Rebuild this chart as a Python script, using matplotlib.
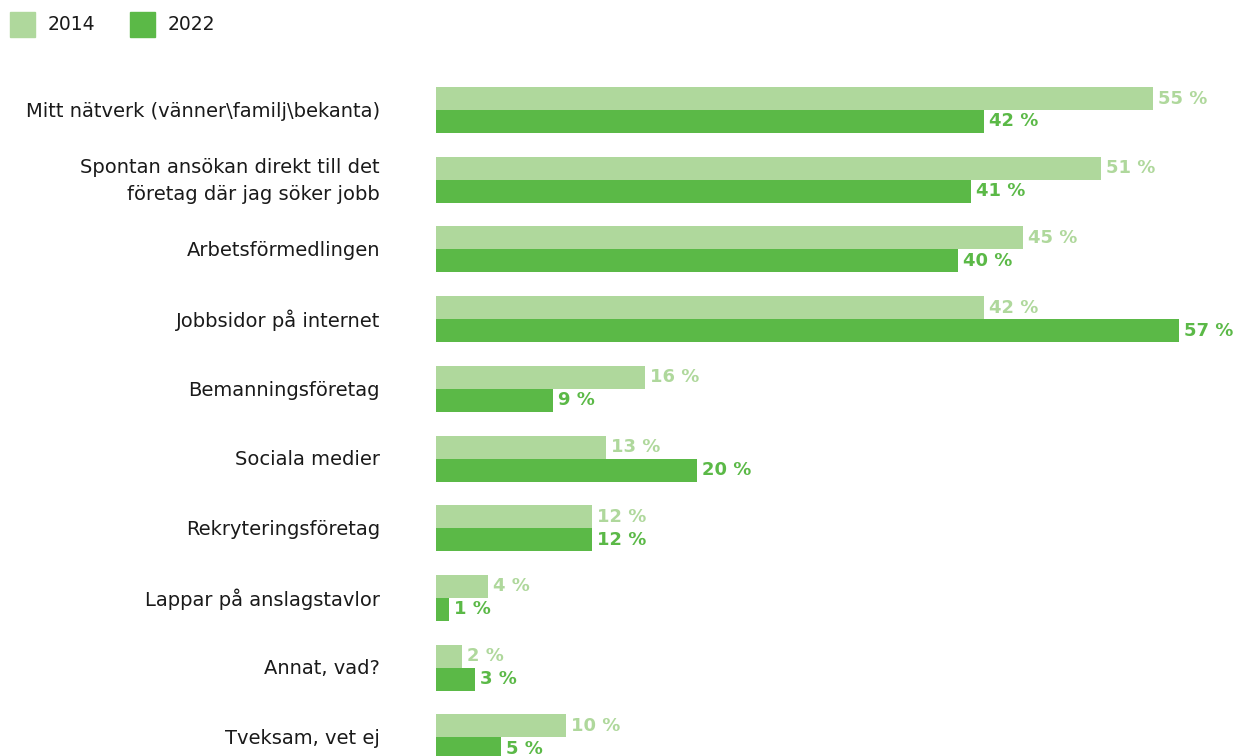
import matplotlib.pyplot as plt
from matplotlib.patches import Rectangle

plt.rcParams['font.family'] = ['DejaVu Sans']

categories = ["Mitt nätverk (vänner\\familj\\bekanta)",
              "Spontan ansökan direkt till det\nföretag där jag söker jobb",
              "Arbetsförmedlingen",
              "Jobbsidor på internet",
              "Bemanningsföretag",
              "Sociala medier",
              "Rekryteringsföretag",
              "Lappar på anslagstavlor",
              "Annat, vad?",
              "Tveksam, vet ej"]
values_2014 = [55, 51, 45, 42, 16, 13, 12, 4, 2, 10]
values_2022 = [42, 41, 40, 57, 9, 20, 12, 1, 3, 5]
series_names = ["2014", "2022"]

light = "#afd89c"
dark = "#5bb947"

W, H = 1237, 756
fig = plt.figure(figsize=(W / 100, H / 100), dpi=100)

# axes placed so that bars start at x=436 px
x0 = 436
px_per_pct = 13.04
pitch = 69.7
first_center = 110
ax = fig.add_axes([x0 / W, 0, (W - x0) / W, 1])
ax.set_xlim(0, (W - x0) / px_per_pct)
ax.set_ylim((H - first_center) / pitch, -first_center / pitch)
ax.axis('off')

bh = 23 / pitch
pos = list(range(len(categories)))
ax.barh([p - bh / 2 for p in pos], values_2014, height=bh, color=light)
ax.barh([p + bh / 2 for p in pos], values_2022, height=bh, color=dark)

off = 5 / px_per_pct
for p, v in zip(pos, values_2014):
    ax.text(v + off, p - bh / 2, f"{v} %", color=light, fontsize=13,
            fontweight='bold', va='center', ha='left')
for p, v in zip(pos, values_2022):
    ax.text(v + off, p + bh / 2, f"{v} %", color=dark, fontsize=13,
            fontweight='bold', va='center', ha='left')

# category labels, right aligned at x=380 px
for p, c in zip(pos, categories):
    ax.text(-56 / px_per_pct, p + 0.02, c, fontsize=14, color="#1a1a1a",
            ha='right', va='center', linespacing=1.55, clip_on=False)

# legend
for i, (name, col) in enumerate(zip(series_names, [light, dark])):
    lx = 10 + i * 120
    fig.patches.append(Rectangle((lx / W, 1 - 37 / H), 25 / W, 25 / H,
                                 transform=fig.transFigure, color=col))
    fig.text((lx + 38) / W, 1 - 25 / H, name, fontsize=13.5, color="#1a1a1a",
             ha='left', va='center')

fig.savefig("out.png", dpi=100)
